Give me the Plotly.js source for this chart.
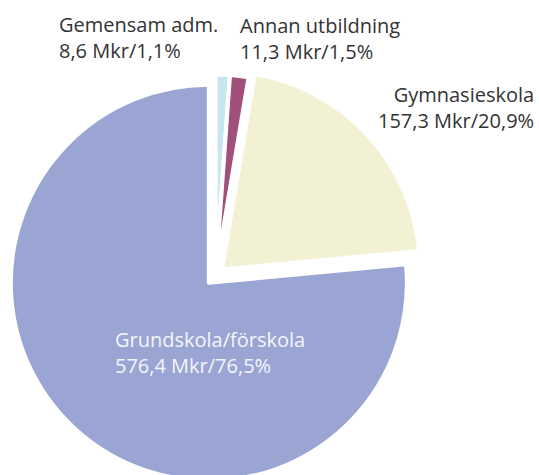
<!DOCTYPE html>
<html>
<head>
<meta charset="utf-8">
<script src="https://cdn.plot.ly/plotly-3.0.1.min.js"></script>
<style>
html,body{margin:0;padding:0;overflow:hidden;background:#fff;}
#chart{width:539px;height:490px;}
</style>
</head>
<body>
<div id="chart"></div>
<script>
const categories = ["Gemensam adm.", "Annan utbildning", "Gymnasieskola", "Grundskola/förskola"];
const valuesMkr = [8.6, 11.3, 157.3, 576.4];
const percentLabels = ["1,1%", "1,5%", "20,9%", "76,5%"];
const amountLabels = ["8,6 Mkr", "11,3 Mkr", "157,3 Mkr", "576,4 Mkr"];
const colors = ["#c8e6f2", "#a0507a", "#f2f1d3", "#9aa5d3"];
const pulls = [0.015, 0.015, 0.045, 0.05];

const W = 539, H = 490;
const font = "'Open Sans', 'Noto Sans', sans-serif";

function lbl(i){ return categories[i] + "<br>" + amountLabels[i] + "/" + percentLabels[i]; }

const annPos = [
  {x: 57, y: 9, xanchor: "left", align: "left", color: "#333333"},
  {x: 238, y: 10, xanchor: "left", align: "left", color: "#333333"},
  {x: 536, y: 79, xanchor: "right", align: "right", color: "#333333"},
  {x: 113, y: 324, xanchor: "left", align: "left", color: "#f4f5fb"}
];

const annotations = categories.map((c, i) => ({
  text: lbl(i),
  xref: "paper", yref: "paper",
  x: annPos[i].x / W, y: 1 - annPos[i].y / H,
  xanchor: annPos[i].xanchor, yanchor: "top",
  align: annPos[i].align,
  showarrow: false,
  font: {family: font, size: 20, color: annPos[i].color}
}));

const trace = {
  type: "pie",
  labels: categories,
  values: valuesMkr,
  sort: false,
  direction: "clockwise",
  rotation: 0,
  pull: pulls,
  textinfo: "none",
  hoverinfo: "label+value+percent",
  marker: {colors: colors, line: {color: "#ffffff", width: 4}},
  domain: {x: [7.6 / W, 423.4 / W], y: [1 - 483.4 / H, 1 - 67.6 / H]},
  showlegend: false
};

Plotly.newPlot("chart", [trace], {
  width: W, height: H,
  margin: {l: 0, r: 0, t: 0, b: 0},
  paper_bgcolor: "#ffffff",
  showlegend: false,
  annotations: annotations
}, {staticPlot: true});
</script>
</body>
</html>
